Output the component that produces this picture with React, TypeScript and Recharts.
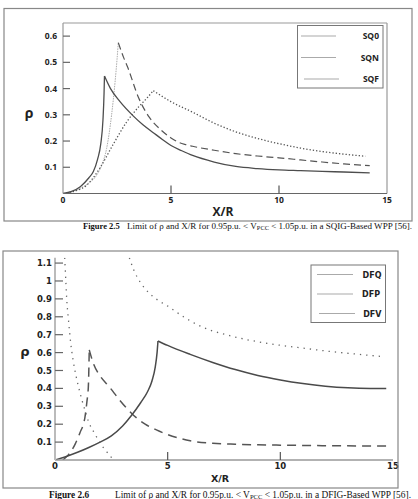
import React from 'react';
import { LineChart, Line, XAxis, YAxis, ReferenceLine } from 'recharts';

// ---------- Figure 2.5 (SQIG) ----------
const SQ0_RISE_X = [0, 0.4, 0.8, 1.2, 1.4, 1.6, 1.75, 1.85, 1.9, 1.92];
const SQ0_RISE_Y = [0, 0.008, 0.026, 0.06, 0.083, 0.13, 0.19, 0.28, 0.38, 0.448];
const SQ0_FALL_X = [1.92, 2.2, 2.64, 3.26, 3.7, 4.18, 4.6, 5, 5.5, 6, 7, 8, 9, 10, 11, 12, 13, 14.2];
const SQ0_FALL_Y = [0.448, 0.4, 0.35, 0.295, 0.262, 0.232, 0.206, 0.183, 0.163, 0.145, 0.12, 0.103, 0.095, 0.09, 0.087, 0.084, 0.082, 0.079];

const SQN_RISE_X = [0, 0.4, 0.8, 1.2, 1.56, 1.8, 2.02, 2.25, 2.41, 2.5, 2.56];
const SQN_RISE_Y = [0, 0.005, 0.02, 0.04, 0.07, 0.11, 0.172, 0.3, 0.425, 0.51, 0.575];
const SQN_FALL_X = [2.56, 2.8, 3.0, 3.5, 4.0, 4.5, 5.0, 5.3, 5.7, 6, 7, 8, 9, 10, 11, 12, 13, 14.2];
const SQN_FALL_Y = [0.575, 0.52, 0.48, 0.365, 0.29, 0.245, 0.212, 0.197, 0.186, 0.18, 0.165, 0.152, 0.143, 0.136, 0.128, 0.12, 0.113, 0.106];

const SQF_RISE_X = [0, 0.5, 1.1, 1.7, 2.3, 2.95, 3.5, 3.9, 4.18];
const SQF_RISE_Y = [0, 0.008, 0.032, 0.096, 0.184, 0.273, 0.33, 0.365, 0.392];
const SQF_FALL_X = [4.18, 5, 6, 7, 8, 9, 10, 11, 12, 13, 14];
const SQF_FALL_Y = [0.392, 0.35, 0.31, 0.268, 0.235, 0.21, 0.19, 0.173, 0.16, 0.15, 0.142];

const SQ_LEGEND = ['SQ0', 'SQN', 'SQF'];
const SQ_X_TICKS = [0, 5, 10, 15];
const SQ_Y_TICKS = [0.1, 0.2, 0.3, 0.4, 0.5, 0.6];
const SQ_Y_LABELS = ['0.1', '0.2', '0.3', '0.4', '0.5', '0.6'];

// ---------- Figure 2.6 (DFIG) ----------
const DFQ_RISE_X = [0, 0.5, 1, 1.5, 2, 2.5, 3, 3.4, 3.8, 4.1, 4.3, 4.45, 4.53, 4.57];
const DFQ_RISE_Y = [0, 0.02, 0.043, 0.07, 0.1, 0.135, 0.19, 0.25, 0.32, 0.38, 0.44, 0.52, 0.6, 0.665];
const DFQ_FALL_X = [4.57, 5, 6, 7, 8, 9, 10, 11, 12, 13, 14, 14.7];
const DFQ_FALL_Y = [0.665, 0.64, 0.59, 0.545, 0.505, 0.472, 0.447, 0.427, 0.412, 0.403, 0.4, 0.4];

const DFP_RISE_X = [0.35, 0.6, 0.9, 1.1, 1.33, 1.42, 1.48, 1.52];
const DFP_RISE_Y = [0, 0.03, 0.09, 0.15, 0.24, 0.33, 0.41, 0.615];
const DFP_FALL_X = [1.52, 1.7, 2, 2.4, 2.9, 3.4, 4, 4.5, 5, 5.5, 6, 7, 8, 9, 10, 12, 14.7];
const DFP_FALL_Y = [0.615, 0.54, 0.47, 0.41, 0.33, 0.26, 0.2, 0.168, 0.142, 0.122, 0.107, 0.093, 0.088, 0.085, 0.083, 0.08, 0.078];

const DFV_A_X = [0.43, 0.48, 0.52, 0.6, 0.7, 0.8, 0.95, 1.1, 1.3, 1.5, 1.75, 2.0, 2.3, 2.6];
const DFV_A_Y = [1.13, 1.0, 0.9, 0.78, 0.65, 0.56, 0.46, 0.38, 0.29, 0.21, 0.15, 0.095, 0.045, 0];
const DFV_B_X = [3.3, 3.5, 3.8, 4.2, 4.6, 5, 5.7, 6.5, 7.9, 9.4, 11, 12.3, 13.5, 14.6];
const DFV_B_Y = [1.13, 1.06, 0.99, 0.93, 0.89, 0.86, 0.8, 0.745, 0.69, 0.652, 0.625, 0.605, 0.59, 0.577];

const DF_LEGEND = ['DFQ', 'DFP', 'DFV'];
const DF_X_TICKS = [0, 5, 10, 15];
const DF_Y_TICKS = [0.1, 0.2, 0.3, 0.4, 0.5, 0.6, 0.7, 0.8, 0.9, 1, 1.1];
const DF_Y_LABELS = ['0.1', '0.2', '0.3', '0.4', '0.5', '0.6', '0.7', '0.8', '0.9', '1', '1.1'];

const zip = (xs: number[], ys: number[]) => xs.map((x, i) => ({ x, y: ys[i] }));

const makeYTick = (labels: string[], ticks: number[], font: string, size: number, gap: number, len: number) =>
  (props: any) => {
    const { x, y, payload } = props;
    const i = ticks.indexOf(payload.value);
    return (
      <g>
        <line x1={x} x2={x + len} y1={y} y2={y} stroke="#666" strokeWidth={1.2} />
        <text x={x - gap} y={y + size * 0.36} textAnchor="end" fontFamily={font} fontWeight="bold" fontSize={size} fill="#222">
          {i >= 0 ? labels[i] : payload.value}
        </text>
      </g>
    );
  };

const makeXTick = (font: string, size: number, dy: number, len: number) =>
  (props: any) => {
    const { x, y, payload } = props;
    const v = payload.value;
    return (
      <g>
        {v !== 0 && v !== 15 ? <line x1={x} x2={x} y1={y} y2={y - len} stroke="#555" strokeWidth={1.2} /> : null}
        <text x={x} y={y + dy} textAnchor="middle" fontFamily={font} fontWeight="bold" fontSize={size} fill="#222">
          {v}
        </text>
      </g>
    );
  };

const F1 = '"Open Sans", sans-serif';
const F2 = '"DejaVu Sans", sans-serif';
const SERIF = '"Liberation Serif", "Times New Roman", serif';

export default function App() {
  return (
    <div style={{ position: 'absolute', left: 0, top: 0, width: 418, height: 499, background: '#fff', overflow: 'hidden' }}>
      {/* Chart 1 */}
      <div style={{ position: 'absolute', left: 0, top: 0 }}>
        <LineChart width={418} height={235} margin={{ top: 23, right: 31, left: 0, bottom: 21.5 }}>
          <XAxis type="number" dataKey="x" domain={[0, 15]} ticks={SQ_X_TICKS} allowDataOverflow
            axisLine={{ stroke: '#666', strokeWidth: 1.2 }} tickLine={false} tickSize={0} tickMargin={0} height={20}
            tick={makeXTick(F1, 8.5, 9.5, 8)} interval={0} />
          <YAxis type="number" domain={[0, 0.65]} ticks={SQ_Y_TICKS} allowDataOverflow width={63}
            axisLine={{ stroke: '#999', strokeWidth: 1.2 }} tickLine={false} tickSize={0} tickMargin={0}
            tick={makeYTick(SQ_Y_LABELS, SQ_Y_TICKS, F1, 8.5, 6, 7)} interval={0} />
          <ReferenceLine y={0.65} stroke="#999" strokeWidth={1.2} />
          <ReferenceLine x={15} stroke="#999" strokeWidth={1.2} />
          <Line data={zip(SQN_RISE_X, SQN_RISE_Y)} dataKey="y" type="monotone" stroke="#aaa" strokeWidth={1} strokeDasharray="1.5 1" dot={false} isAnimationActive={false} />
          <Line data={zip(SQF_RISE_X, SQF_RISE_Y)} dataKey="y" type="monotone" stroke="#555" strokeWidth={1.3} strokeDasharray="1.3 2" dot={false} isAnimationActive={false} />
          <Line data={zip(SQF_FALL_X, SQF_FALL_Y)} dataKey="y" type="monotone" stroke="#555" strokeWidth={1.3} strokeDasharray="1.3 2" dot={false} isAnimationActive={false} />
          <Line data={zip(SQN_FALL_X, SQN_FALL_Y)} dataKey="y" type="monotone" stroke="#555" strokeWidth={1.2} strokeDasharray="7 4" dot={false} isAnimationActive={false} />
          <Line data={zip(SQ0_RISE_X, SQ0_RISE_Y)} dataKey="y" type="monotone" stroke="#4d4d4d" strokeWidth={1.3} dot={false} isAnimationActive={false} />
          <Line data={zip(SQ0_FALL_X, SQ0_FALL_Y)} dataKey="y" type="monotone" stroke="#4d4d4d" strokeWidth={1.3} dot={false} isAnimationActive={false} />
        </LineChart>
      </div>

      {/* Chart 2 */}
      <div style={{ position: 'absolute', left: 0, top: 240 }}>
        <LineChart width={418} height={250} margin={{ top: 17.7, right: 25, left: 0, bottom: 10 }}>
          <XAxis type="number" dataKey="x" domain={[0, 15]} ticks={DF_X_TICKS} allowDataOverflow
            axisLine={{ stroke: '#999', strokeWidth: 1.5 }} tickLine={false} tickSize={0} tickMargin={0} height={20}
            tick={makeXTick(F2, 8.5, 9, 8)} interval={0} />
          <YAxis type="number" domain={[0, 1.13]} ticks={DF_Y_TICKS} allowDataOverflow width={55}
            axisLine={{ stroke: '#bbb', strokeWidth: 2 }} tickLine={false} tickSize={0} tickMargin={0}
            tick={makeYTick(DF_Y_LABELS, DF_Y_TICKS, F2, 8.5, 3, 8)} interval={0} />
          <Line data={zip(DFV_A_X, DFV_A_Y)} dataKey="y" type="monotone" stroke="#666" strokeWidth={1.3} strokeDasharray="1.3 5" dot={false} isAnimationActive={false} />
          <Line data={zip(DFV_B_X, DFV_B_Y)} dataKey="y" type="monotone" stroke="#666" strokeWidth={1.3} strokeDasharray="1.3 5" dot={false} isAnimationActive={false} />
          <Line data={zip(DFP_RISE_X, DFP_RISE_Y)} dataKey="y" type="monotone" stroke="#555" strokeWidth={1.5} strokeDasharray="9 6" dot={false} isAnimationActive={false} />
          <Line data={zip(DFP_FALL_X, DFP_FALL_Y)} dataKey="y" type="monotone" stroke="#555" strokeWidth={1.5} strokeDasharray="9 6" dot={false} isAnimationActive={false} />
          <Line data={zip(DFQ_RISE_X, DFQ_RISE_Y)} dataKey="y" type="monotone" stroke="#4a4a4a" strokeWidth={1.5} dot={false} isAnimationActive={false} />
          <Line data={zip(DFQ_FALL_X, DFQ_FALL_Y)} dataKey="y" type="monotone" stroke="#4a4a4a" strokeWidth={1.5} dot={false} isAnimationActive={false} />
        </LineChart>
      </div>

      {/* Frames, labels, legends, captions */}
      <svg width={418} height={499} style={{ position: 'absolute', left: 0, top: 0, pointerEvents: 'none' }}>
        <rect x={4} y={8.5} width={408} height={212.5} fill="none" stroke="#888" strokeWidth={1.2} />
        <rect x={3} y={251} width={395} height={237} fill="none" stroke="#888" strokeWidth={1.2} />

        <text x={29} y={118} textAnchor="middle" fontFamily={F1} fontWeight="bold" fontSize={14} fill="#222">ρ</text>
        <text x={223} y={215.5} textAnchor="middle" fontFamily={F1} fontWeight="bold" fontSize={12} fill="#222">X/R</text>
        <text x={25} y={356} textAnchor="middle" fontFamily={F2} fontWeight="bold" fontSize={13} fill="#222">ρ</text>
        <text x={220} y={481.5} textAnchor="middle" fontFamily={F2} fontWeight="bold" fontSize={9.5} fill="#222">X/R</text>

        {/* Legend 1 */}
        <rect x={297.5} y={25.5} width={85.5} height={62.5} fill="#fff" stroke="#777" strokeWidth={1} />
        {SQ_LEGEND.map((name, i) => (
          <g key={name}>
            <line x1={301 + (i === 2 ? 3 : 0)} x2={336 + (i === 2 ? 3 : 0)} y1={36 + i * 21.5} y2={36 + i * 21.5} stroke="#aaa" strokeWidth={1.2} />
            <text x={379} y={36 + i * 21.5 + 3} textAnchor="end" fontFamily={F1} fontWeight="bold" fontSize={8.5} fill="#222">{name}</text>
          </g>
        ))}

        {/* Legend 2 */}
        <rect x={311} y={265} width={74.5} height={57.5} fill="#fff" stroke="#777" strokeWidth={1} />
        {DF_LEGEND.map((name, i) => (
          <g key={name}>
            <line x1={317 + (i === 2 ? 2 : 0)} x2={353 + (i === 2 ? 2 : 0)} y1={274.5 + i * 19.5} y2={274.5 + i * 19.5} stroke="#aaa" strokeWidth={1.2} />
            <text x={381.5 - (i === 1 ? 1.5 : 0)} y={274.5 + i * 19.5 + 3} textAnchor="end" fontFamily={F2} fontWeight="bold" fontSize={8} fill="#222">{name}</text>
          </g>
        ))}

        {/* Captions */}
        <text x={83} y={228.5} fontFamily={SERIF} fontWeight="bold" fontSize={8.5} fill="#111">Figure 2.5</text>
        <text x={127} y={228.5} fontFamily={SERIF} fontSize={8.5} fill="#111" textLength={285} lengthAdjust="spacingAndGlyphs">
          Limit of ρ and X/R for 0.95p.u. &lt; V<tspan fontSize={6} dy={1.5}>PCC</tspan><tspan dy={-1.5}> &lt; 1.05p.u. in a SQIG-Based WPP [56].</tspan>
        </text>
        <text x={49} y={497.5} fontFamily={SERIF} fontWeight="bold" fontSize={9.3} fill="#111">Figure 2.6</text>
        <text x={115} y={497.5} fontFamily={SERIF} fontSize={9.3} fill="#111" textLength={296} lengthAdjust="spacingAndGlyphs">
          Limit of ρ and X/R for 0.95p.u. &lt; V<tspan fontSize={6.5} dy={1.5}>PCC</tspan><tspan dy={-1.5}> &lt; 1.05p.u. in a DFIG-Based WPP [56].</tspan>
        </text>
      </svg>
    </div>
  );
}
